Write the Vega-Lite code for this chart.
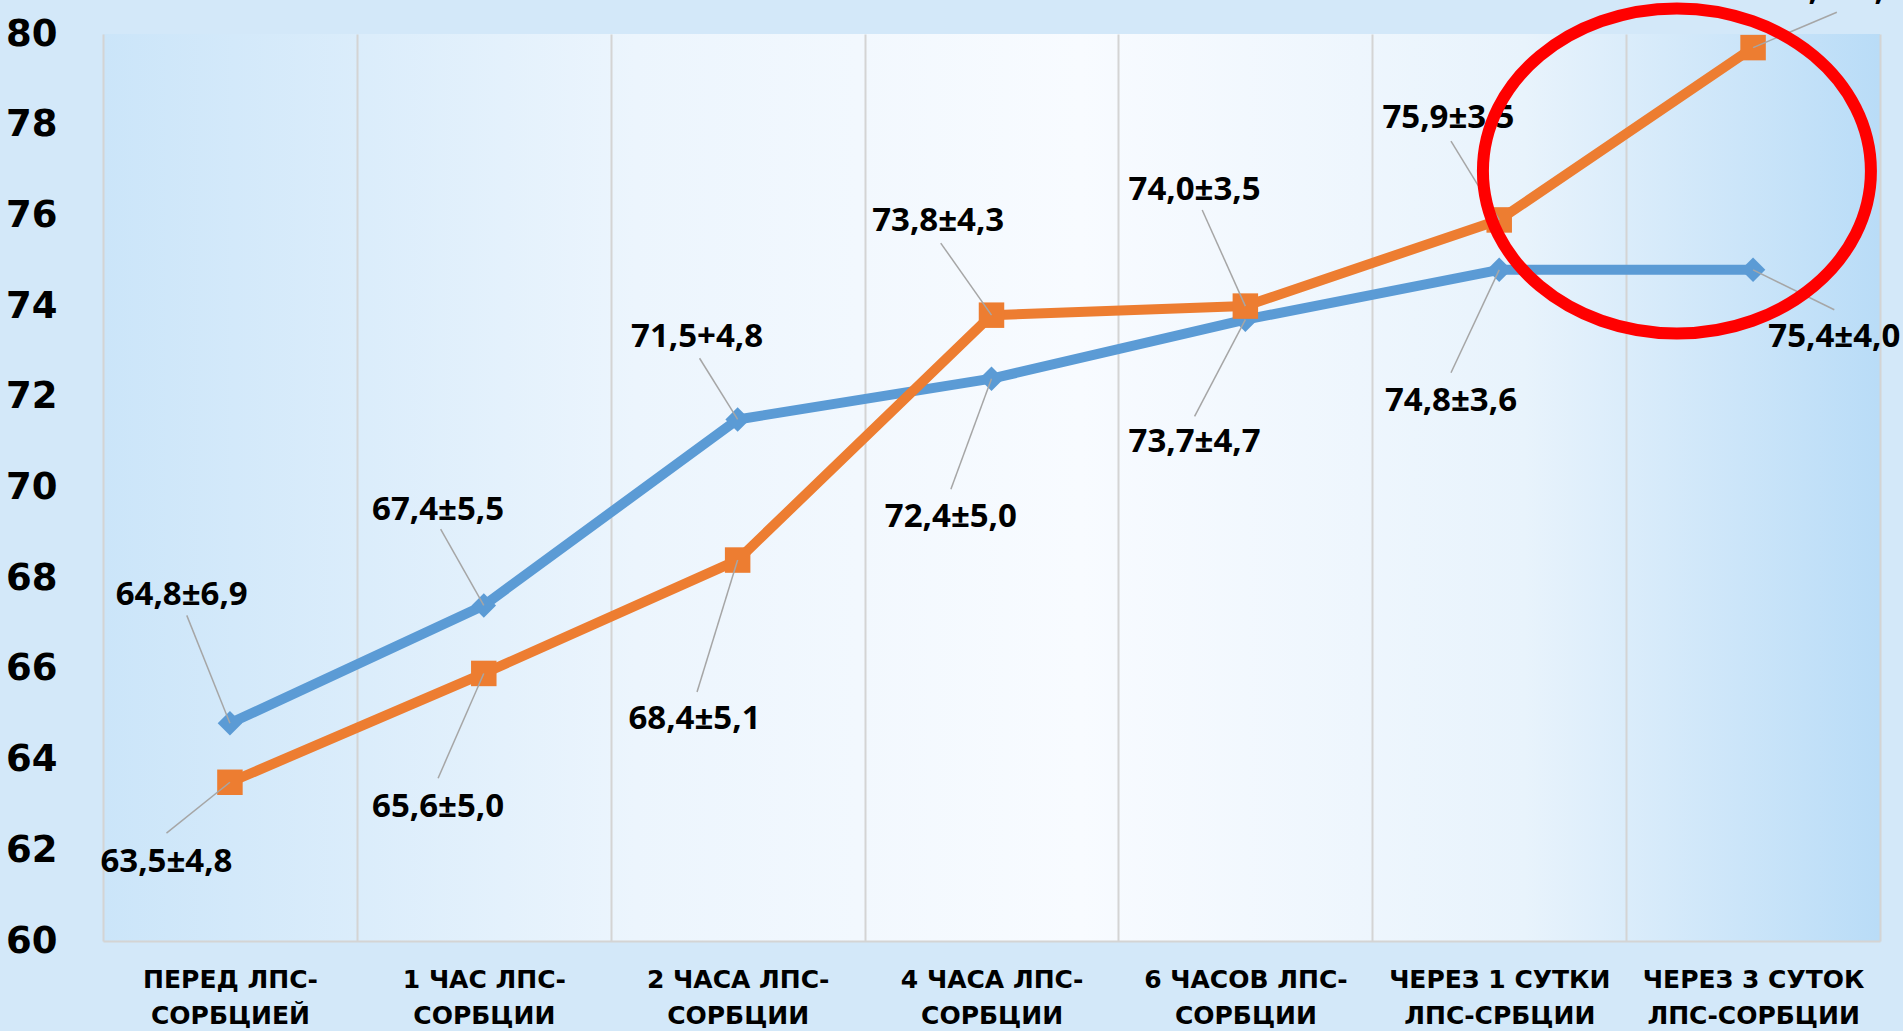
{
  "$schema": "https://vega.github.io/schema/vega-lite/v6.json",
  "width": 1777,
  "height": 907,
  "autosize": {"type": "none"},
  "padding": {"left": 103, "top": 34, "right": 23, "bottom": 90},
  "background": "#d3e8f9",
  "config": {
    "view": {
      "stroke": null,
      "fill": {"gradient": "linear", "x1": 0, "y1": 0, "x2": 1, "y2": 0,
        "stops": [
          {"offset": 0, "color": "#cbe5f9"},
          {"offset": 0.3, "color": "#ecf5fd"},
          {"offset": 0.55, "color": "#f8fbff"},
          {"offset": 0.8, "color": "#e8f3fc"},
          {"offset": 1, "color": "#b9dcf7"}
        ]}
    }
  },
  "datasets": {
    "d": [
      {"i": 1, "s": "A", "v": 64.8, "t": "64,8±6,9", "lx": 0.81, "ly": 67.63, "ex": 0.83, "ey": 67.18},
      {"i": 2, "s": "A", "v": 67.4, "t": "67,4±5,5", "lx": 1.82, "ly": 69.5, "ex": 1.83, "ey": 69.08},
      {"i": 3, "s": "A", "v": 71.5, "t": "71,5+4,8", "lx": 2.84, "ly": 73.31, "ex": 2.85, "ey": 72.85},
      {"i": 4, "s": "A", "v": 72.4, "t": "72,4±5,0", "lx": 3.84, "ly": 69.34, "ex": 3.84, "ey": 69.96},
      {"i": 5, "s": "A", "v": 73.7, "t": "73,7±4,7", "lx": 4.8, "ly": 71.0, "ex": 4.8, "ey": 71.57},
      {"i": 6, "s": "A", "v": 74.8, "t": "74,8±3,6", "lx": 5.81, "ly": 71.91, "ex": 5.81, "ey": 72.53},
      {"i": 7, "s": "A", "v": 74.8, "t": "75,4±4,0", "lx": 7.32, "ly": 73.31, "ex": 7.32, "ey": 73.92},
      {"i": 1, "s": "B", "v": 63.5, "t": "63,5±4,8", "lx": 0.75, "ly": 61.74, "ex": 0.75, "ey": 62.38},
      {"i": 2, "s": "B", "v": 65.9, "t": "65,6±5,0", "lx": 1.82, "ly": 62.95, "ex": 1.82, "ey": 63.59},
      {"i": 3, "s": "B", "v": 68.4, "t": "68,4±5,1", "lx": 2.83, "ly": 64.9, "ex": 2.84, "ey": 65.49},
      {"i": 4, "s": "B", "v": 73.8, "t": "73,8±4,3", "lx": 3.79, "ly": 75.88, "ex": 3.8, "ey": 75.39},
      {"i": 5, "s": "B", "v": 74.0, "t": "74,0±3,5", "lx": 4.8, "ly": 76.57, "ex": 4.83, "ey": 76.12},
      {"i": 6, "s": "B", "v": 75.9, "t": "75,9±3,5", "lx": 5.8, "ly": 78.15, "ex": 5.81, "ey": 77.64},
      {"i": 7, "s": "B", "v": 79.7, "t": "79,7±4,1", "lx": 7.33, "ly": 80.96, "ex": 7.33, "ey": 80.48}
    ],
    "circ": [{"cx": 6.7, "cy": 76.98}]
  },
  "layer": [
    {
      "data": {"name": "d"},
      "mark": {"type": "line", "strokeWidth": 10, "strokeJoin": "round", "strokeCap": "butt"},
      "encoding": {
        "x": {"field": "i", "type": "quantitative",
          "scale": {"domain": [0.5, 7.5], "nice": false, "zero": false},
          "axis": {
            "title": null,
            "values": [0.5, 1.5, 2.5, 3.5, 4.5, 5.5, 6.5, 7.5],
            "grid": true, "gridColor": "#d4d4d4", "gridWidth": 2,
            "ticks": false, "tickSize": 0,
            "domain": true, "domainColor": "#d4d4d4", "domainWidth": 2,
            "labelOffset": 127,
            "labelAngle": 0, "labelAlign": "center", "labelBaseline": "middle",
            "labelPadding": 38, "labelLineHeight": 36, "labelLimit": 0,
            "labelFlush": false, "labelOverlap": false, "labelBound": false,
            "labelFont": "DejaVu Sans", "labelFontWeight": "bold", "labelFontSize": 25, "labelColor": "#000000",
            "labelExpr": "datum.value==0.5?['ПЕРЕД ЛПС-','СОРБЦИЕЙ']:datum.value==1.5?['1 ЧАС ЛПС-','СОРБЦИИ']:datum.value==2.5?['2 ЧАСА ЛПС-','СОРБЦИИ']:datum.value==3.5?['4 ЧАСА ЛПС-','СОРБЦИИ']:datum.value==4.5?['6 ЧАСОВ ЛПС-','СОРБЦИИ']:datum.value==5.5?['ЧЕРЕЗ  1 СУТКИ','ЛПС-СРБЦИИ']:datum.value==6.5?['ЧЕРЕЗ 3 СУТОК','ЛПС-СОРБЦИИ']:''"
          }},
        "y": {"field": "v", "type": "quantitative",
          "scale": {"domain": [60, 80], "nice": false, "zero": false},
          "axis": {
            "title": null,
            "values": [60, 62, 64, 66, 68, 70, 72, 74, 76, 78, 80],
            "grid": false, "domain": false, "ticks": false, "tickSize": 0,
            "labelPadding": 46, "labelBaseline": "middle",
            "labelFont": "DejaVu Sans", "labelFontWeight": "bold", "labelFontSize": 37, "labelColor": "#000000"
          }},
        "color": {"field": "s", "type": "nominal",
          "scale": {"domain": ["A", "B"], "range": ["#5b9bd5", "#ed7d31"]}, "legend": null},
        "order": {"field": "i", "type": "quantitative"}
      }
    },
    {
      "data": {"name": "d"},
      "transform": [{"filter": "datum.s=='A'"}],
      "mark": {"type": "point", "shape": "diamond", "size": 600, "filled": true, "opacity": 1, "color": "#5b9bd5"},
      "encoding": {
        "x": {"field": "i", "type": "quantitative"},
        "y": {"field": "v", "type": "quantitative"}
      }
    },
    {
      "data": {"name": "d"},
      "transform": [{"filter": "datum.s=='B'"}],
      "mark": {"type": "point", "shape": "square", "size": 650, "filled": true, "opacity": 1, "color": "#ed7d31"},
      "encoding": {
        "x": {"field": "i", "type": "quantitative"},
        "y": {"field": "v", "type": "quantitative"}
      }
    },
    {
      "data": {"name": "d"},
      "mark": {"type": "rule", "color": "#a6a6a6", "strokeWidth": 1.5},
      "encoding": {
        "x": {"field": "i", "type": "quantitative"},
        "y": {"field": "v", "type": "quantitative"},
        "x2": {"field": "ex"},
        "y2": {"field": "ey"}
      }
    },
    {
      "data": {"name": "d"},
      "mark": {"type": "text", "font": "Open Sans", "fontWeight": "bold", "fontSize": 33, "color": "#000000", "align": "center", "baseline": "middle"},
      "encoding": {
        "x": {"field": "lx", "type": "quantitative"},
        "y": {"field": "ly", "type": "quantitative"},
        "text": {"field": "t"}
      }
    },
    {
      "data": {"name": "circ"},
      "mark": {"type": "point", "shape": "M1,0C1,0.4628,0.5523,0.838,0,0.838C-0.5523,0.838,-1,0.4628,-1,0C-1,-0.4628,-0.5523,-0.838,0,-0.838C0.5523,-0.838,1,-0.4628,1,0Z", "size": 150544, "filled": false, "stroke": "#ff0000", "strokeWidth": 12, "opacity": 1},
      "encoding": {
        "x": {"field": "cx", "type": "quantitative"},
        "y": {"field": "cy", "type": "quantitative"}
      }
    }
  ]
}
